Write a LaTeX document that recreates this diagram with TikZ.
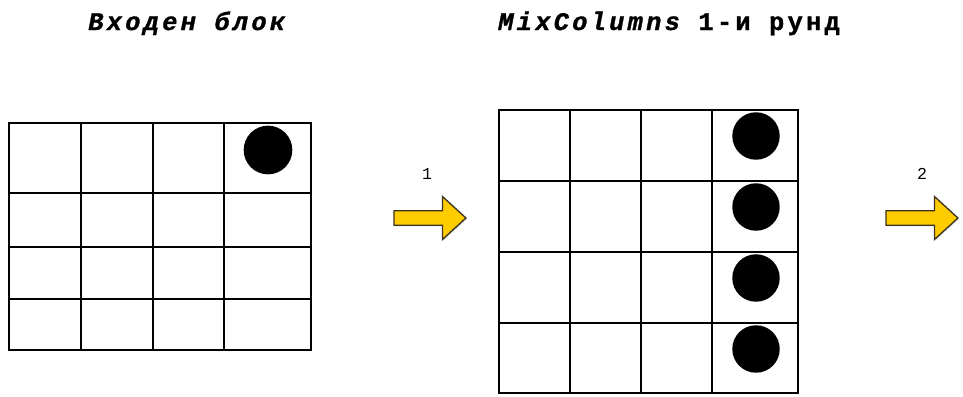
\documentclass[tikz,border=0pt]{standalone}
\usepackage{fontspec}
\setmainfont{Liberation Serif}
\newfontfamily\headfont[LetterSpace=13,FakeBold=1.2]{Liberation Mono}
\newfontfamily\stepfont{Liberation Mono}
\usetikzlibrary{positioning,shapes.arrows,shadows}
\definecolor{arrowgold}{RGB}{255,204,0}
\definecolor{arrowedge}{RGB}{60,52,30}

\tikzset{
  cell/.style={line width=1.4pt},
  dot/.style={circle,fill=black,inner sep=0pt,minimum size=36.5pt},
  fwd/.style={single arrow,draw=arrowedge,fill=arrowgold,line width=1pt,
    inner xsep=0pt,inner ysep=4.9pt,minimum height=54pt,
    single arrow head extend=10.7pt,single arrow tip angle=85,
    drop shadow={opacity=0.25,shadow xshift=0.8pt,shadow yshift=-0.8pt}},
  head/.style={font=\headfont\bfseries\fontsize{19}{21}\selectfont,anchor=base west,inner sep=0pt},
  stepno/.style={font=\stepfont\fontsize{12.5}{14}\selectfont,inner sep=0pt}
}

\begin{document}
\begin{tikzpicture}[x=0.75pt,y=-0.75pt]
\useasboundingbox (0,0) rectangle (963,396);
% headings
\node[head] (h1) at (88,30) {\itshape Входен блок};
\node[head] (h2) at (498,30) {{\itshape MixColumns} 1-и рунд};
% input block
\draw[cell] (9,123) rectangle (311,350) (81,123)--(81,350) (153,123)--(153,350) (224,123)--(224,350)
  (9,193)--(311,193) (9,247)--(311,247) (9,299)--(311,299);
\node[dot] (b1) at (268,150) {};
% state after the first round
\draw[cell] (499,110) rectangle (798,393) (570,110)--(570,393) (641,110)--(641,393) (712,110)--(712,393)
  (499,181)--(798,181) (499,252)--(798,252) (499,323)--(798,323);
\node[dot,minimum size=35.6pt] (c1) at (756,136) {};
\node[dot,minimum size=35.6pt] (c2) at (756,207) {};
\node[dot,minimum size=35.6pt] (c3) at (756,278) {};
\node[dot,minimum size=35.6pt] (c4) at (756,349) {};
% steps
\node[fwd] (a1) at (426,218) {};
\node[fwd] (a2) at (918,218) {};
\node[stepno] (n1) at (427,174) {1};
\node[stepno] (n2) at (922,174) {2};
\end{tikzpicture}
\end{document}
